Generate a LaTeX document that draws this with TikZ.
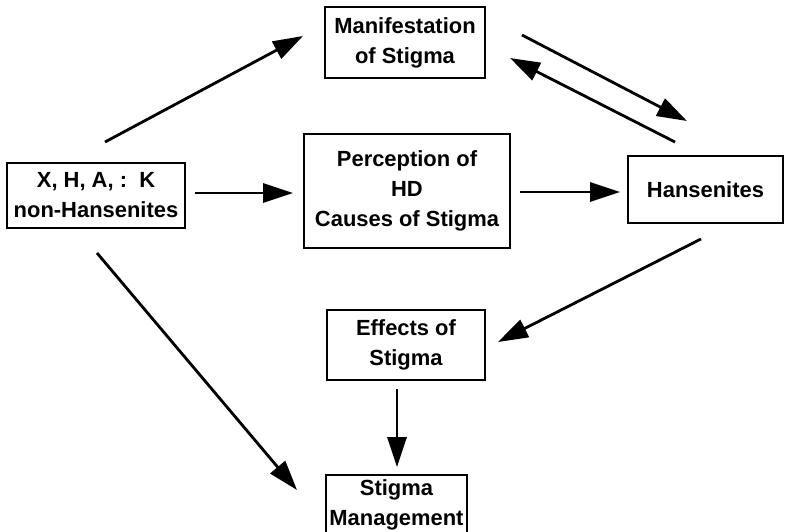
\documentclass[tikz,border=0pt]{standalone}
\usepackage{fontspec}
\setmainfont{Liberation Sans}
\usetikzlibrary{arrows.meta, calc}

\begin{document}
\begin{tikzpicture}[x=0.25mm, y=-0.25mm,
  >={Triangle[length=7.5mm, width=4.8mm]},
  box/.style={draw, line width=1.3pt, align=center, inner sep=0pt,
    font=\fontsize{15.6}{21.3}\selectfont\bfseries},
  arr/.style={->, line width=2pt}]
\useasboundingbox (0,0) rectangle (785,532);
% boxes
\node[box, minimum width=44.5mm, minimum height=16.25mm] (xhk) at (96,195.5) {X, H, A, :\ \ K\\non-Hansenites};
\node[box, minimum width=40mm, minimum height=17.75mm] (manif) at (405,42.5) {Manifestation\\of Stigma};
\node[box, minimum width=51.5mm, minimum height=28.5mm] (percep) at (407,191) {Perception of\\HD\\Causes of Stigma};
\node[box, minimum width=38.75mm, minimum height=16.75mm] (hans) at (705.5,189.5) {Hansenites};
\node[box, minimum width=39.5mm, minimum height=17.5mm] (effects) at (406,345) {Effects of\\Stigma};
\node[box, minimum width=35.25mm, minimum height=15mm] (mgmt) at (396.5,505) {Stigma\\Management};
% arrows from the non-Hansenites
\draw[arr] ($(xhk)+(9,-53.5)$) -- ($(manif)+(-102,-6.5)$);
\draw[arr] ($(xhk)+(99,-2.5)$) -- ($(percep)+(-114,2)$);
\draw[arr] ($(xhk)+(1,57.5)$) -- ($(mgmt)+(-99.5,-15)$);
% arrows round the Hansenites
\draw[arr] ($(manif)+(117,-7.5)$) -- ($(hans)+(-18.5,-68.5)$);
\draw[arr] ($(hans)+(-30.5,-47.5)$) -- ($(manif)+(105,15.5)$);
\draw[arr] ($(percep)+(113,1)$) -- ($(hans)+(-85.5,2.5)$);
\draw[arr] ($(hans)+(-4.5,49.5)$) -- ($(effects)+(92,-3)$);
\draw[arr] ($(effects)+(-9,44)$) -- ($(mgmt)+(0.5,-38)$);
\end{tikzpicture}
\end{document}
